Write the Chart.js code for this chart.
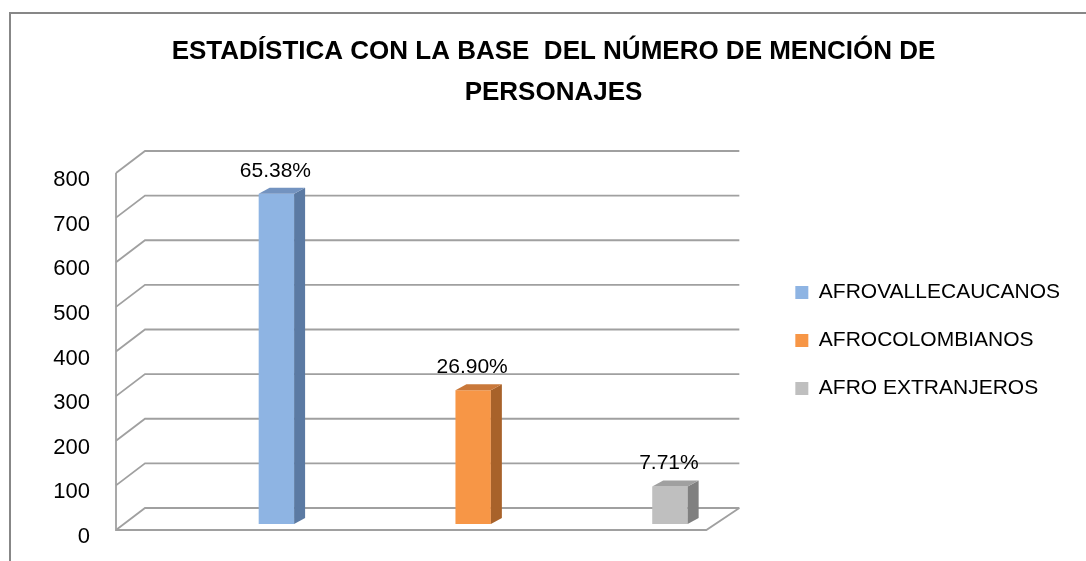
<!DOCTYPE html>
<html><head><meta charset="utf-8">
<script src="https://cdn.jsdelivr.net/npm/chart.js@4.4.1/dist/chart.umd.min.js"></script>
<style>html,body{margin:0;padding:0;background:#fff;}#wrap{width:1086px;height:561px;}</style>
</head><body><div id="wrap"><canvas id="c" width="1086" height="561"></canvas></div>
<script>
// ---- data ----
const categories = ['AFROVALLECAUCANOS', 'AFROCOLOMBIANOS', 'AFRO EXTRANJEROS'];
const mentions = [740, 300, 84];
const percentLabels = ['65.38%', '26.90%', '7.71%'];
const yTickValues = [0, 100, 200, 300, 400, 500, 600, 700, 800];
const titleLines = ['ESTADÍSTICA CON LA BASE  DEL NÚMERO DE MENCIÓN DE', 'PERSONAJES'];

// ---- styles ----
const frontColors = ['#8EB4E3', '#F79646', '#BFBFBF'];
const sideColors = ['#5B7AA3', '#A8622A', '#808080'];
const topColors = ['#7393C0', '#C9783A', '#A0A0A0'];
const FONT = '"Liberation Sans", Arial, sans-serif';

const threeD = {
  id: 'threeD',
  beforeDraw(chart) {
    const ctx = chart.ctx;
    ctx.save();
    ctx.fillStyle = '#fff';
    ctx.fillRect(0, 0, chart.width, chart.height);
    ctx.fillStyle = '#878787';
    ctx.fillRect(9, 12, chart.width - 9, 2);
    ctx.fillRect(9, 12, 2, chart.height - 12);
    ctx.restore();
  },
  beforeDatasetsDraw(chart) {
    const ctx = chart.ctx, a = chart.chartArea, y = chart.scales.y;
    const fx = a.left - 62, bx = a.left - 33, brx = a.right - 29, frx = a.right - 62;
    const fdy = 6, bdy = -16;
    const yMin = yTickValues[0], yMax = yTickValues[yTickValues.length - 1];
    ctx.save();
    ctx.strokeStyle = '#a0a0a0';
    ctx.lineWidth = 1.8;
    yTickValues.forEach(v => {
      const p = y.getPixelForValue(v);
      ctx.beginPath();
      ctx.moveTo(fx, p + fdy);
      ctx.lineTo(bx, p + bdy);
      ctx.lineTo(brx, p + bdy);
      ctx.stroke();
    });
    const p0 = y.getPixelForValue(yMin), pT = y.getPixelForValue(yMax);
    ctx.beginPath();
    ctx.moveTo(fx, pT + fdy);
    ctx.lineTo(fx, p0 + fdy);
    ctx.lineTo(frx, p0 + fdy);
    ctx.lineTo(brx, p0 + bdy);
    ctx.stroke();
    ctx.restore();
  },
  afterDatasetsDraw(chart) {
    const ctx = chart.ctx;
    const meta = chart.getDatasetMeta(0);
    const dx = 11, dy = -6;
    ctx.save();
    meta.data.forEach((bar, i) => {
      const l = bar.x - bar.width / 2, r = bar.x + bar.width / 2, t = bar.y, b = bar.base;
      ctx.fillStyle = sideColors[i];
      ctx.beginPath();
      ctx.moveTo(r, t); ctx.lineTo(r + dx, t + dy); ctx.lineTo(r + dx, b + dy); ctx.lineTo(r, b);
      ctx.closePath(); ctx.fill();
      ctx.fillStyle = topColors[i];
      ctx.beginPath();
      ctx.moveTo(l, t); ctx.lineTo(l + dx, t + dy); ctx.lineTo(r + dx, t + dy); ctx.lineTo(r, t);
      ctx.closePath(); ctx.fill();
      ctx.fillStyle = '#000';
      ctx.font = '21px ' + FONT;
      ctx.textAlign = 'center';
      ctx.textBaseline = 'middle';
      ctx.fillText(percentLabels[i], bar.x - 1, t - 23);
    });
    ctx.restore();
  }
};

new Chart(document.getElementById('c'), {
  type: 'bar',
  data: {
    labels: categories,
    datasets: [{
      label: 'Menciones',
      data: mentions,
      backgroundColor: frontColors,
      borderWidth: 0,
      barPercentage: 1,
      categoryPercentage: 0.18
    }]
  },
  options: {
    responsive: false,
    animation: false,
    devicePixelRatio: 1,
    events: [],
    layout: { padding: { left: 37, right: 16, top: 0, bottom: 37 } },
    plugins: {
      title: {
        display: true,
        text: titleLines,
        color: '#000',
        font: { family: FONT, size: 26, weight: 'bold', lineHeight: 41 / 26 },
        padding: { top: 31.5, bottom: 53.5 }
      },
      legend: {
        display: true,
        position: 'right',
        align: 'start',
        maxWidth: 400,
        title: { display: true, text: ' ', color: '#fff', font: { size: 10, lineHeight: 1.2 }, padding: { top: 243, bottom: 0 } },
        labels: {
          boxWidth: 13,
          boxHeight: 13,
          padding: 27,
          color: '#000',
          font: { family: FONT, size: 21 },
          generateLabels: () => categories.map((c, i) => ({
            text: c, fillStyle: frontColors[i], strokeStyle: frontColors[i], fontColor: '#000',
            lineWidth: 0, hidden: false, index: i
          }))
        }
      },
      tooltip: { enabled: false }
    },
    scales: {
      x: { display: false, offset: true },
      y: {
        min: 0, max: 800,
        afterFit: s => { s.width = 141; s.paddingTop = 14; s.paddingBottom = 14; },
        grid: { display: false, drawTicks: false },
        border: { display: false },
        ticks: { stepSize: 100, padding: 88, labelOffset: 13, color: '#000', font: { family: FONT, size: 22 } }
      }
    }
  },
  plugins: [threeD]
});
</script></body></html>
